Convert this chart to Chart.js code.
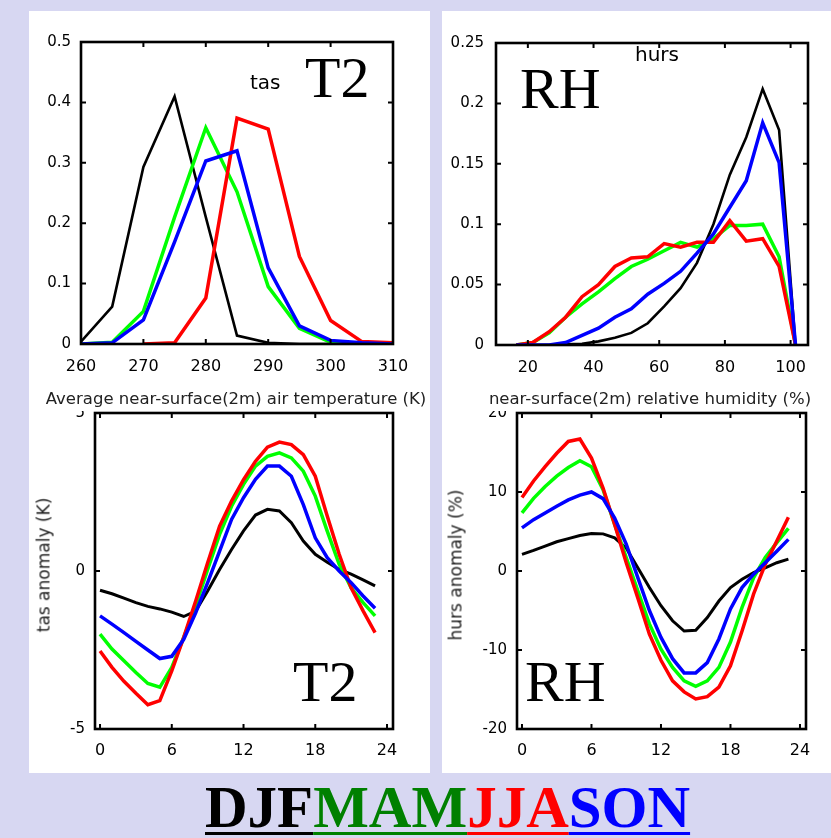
<!DOCTYPE html>
<html><head><meta charset="utf-8">
<script src="https://cdn.jsdelivr.net/npm/chart.js@4/dist/chart.umd.min.js"></script>
<style>
html,body{margin:0;padding:0;}
body{width:831px;height:838px;background:#D7D7F2;position:relative;overflow:hidden;font-family:"DejaVu Sans",sans-serif;}
.panel{position:absolute;background:#fff;}
canvas{position:absolute;left:0;top:0;}
.t{position:absolute;white-space:nowrap;line-height:1;color:#000;}
.serif{font-family:"Liberation Serif","Times New Roman",serif;}
.legend{font-weight:bold;font-size:59px;}
.legend span{text-decoration:underline;text-decoration-thickness:3px;text-underline-offset:5px;}
</style></head><body>
<div class="panel" style="left:29px;top:11px;width:401px;height:762px"></div>
<div class="panel" style="left:442px;top:11px;width:389px;height:762px"></div>
<canvas id="c3" width="831" height="838"></canvas>
<canvas id="c4" width="831" height="838"></canvas>
<div class="panel" style="left:29px;top:11px;width:401px;height:400px"></div>
<div class="panel" style="left:442px;top:11px;width:389px;height:400px"></div>
<canvas id="c1" width="831" height="838"></canvas>
<canvas id="c2" width="831" height="838"></canvas>

<div class="t" style="left:250px;top:72px;font-size:20px">tas</div>
<div class="t serif" style="left:305px;top:49px;font-size:58px">T2</div>
<div class="t" style="left:635px;top:44px;font-size:20px">hurs</div>
<div class="t serif" style="left:520px;top:60px;font-size:58px">RH</div>
<div class="t serif" style="left:293px;top:653px;font-size:58px">T2</div>
<div class="t serif" style="left:525px;top:653px;font-size:58px">RH</div>
<div class="t" style="left:236px;top:391px;font-size:16.5px;transform:translateX(-50%);color:#222">Average near-surface(2m) air temperature (K)</div>
<div class="t" style="left:650px;top:391px;font-size:16.5px;transform:translateX(-50%);color:#222">near-surface(2m) relative humidity (%)</div>
<div class="t" style="left:44px;top:565px;font-size:17px;transform:translate(-50%,-50%) rotate(-90deg);color:#222">tas anomaly (K)</div>
<div class="t" style="left:456px;top:565px;font-size:17px;transform:translate(-50%,-50%) rotate(-90deg);color:#222">hurs anomaly (%)</div>
<div class="t serif legend" style="left:205px;top:778px"><span style="color:#000">DJF</span><span style="color:#008000">MAM</span><span style="color:#FF0000">JJA</span><span style="color:#0000FF">SON</span></div>

<script>
// ---- data ----
const tasBins = [260,265,270,275,280,285,290,295,300,305,310];
const tasPdfDJF = [0.004,0.062,0.293,0.41,0.21,0.014,0.002,0,0,0,0];
const tasPdfMAM = [0,0.003,0.054,0.21,0.358,0.252,0.095,0.026,0.003,0,0];
const tasPdfJJA = [null,null,0,0.002,0.076,0.374,0.356,0.145,0.039,0.004,0.002];
const tasPdfSON = [0,0.002,0.04,0.169,0.303,0.32,0.126,0.03,0.006,0.002,0];
const tasPdfXTicks = [260,270,280,290,300,310];
const tasPdfYTicks = [0,0.1,0.2,0.3,0.4,0.5];

const rhBins = [16.5,21.5,26.5,31.5,36.5,41.5,46.5,51.5,56.5,61.5,66.5,71.5,76.5,81.5,86.5,91.5,96.5,101.5];
const rhPdfDJF = [0,0,0,0.0005,0.001,0.003,0.006,0.010,0.018,0.032,0.047,0.068,0.100,0.141,0.172,0.212,0.178,0];
const rhPdfMAM = [0,0.002,0.010,0.023,0.034,0.044,0.055,0.065,0.071,0.078,0.085,0.081,0.088,0.099,0.099,0.100,0.073,0];
const rhPdfJJA = [0,0.002,0.011,0.023,0.040,0.050,0.065,0.072,0.073,0.084,0.081,0.085,0.085,0.103,0.086,0.088,0.065,0];
const rhPdfSON = [0,0,0,0.002,0.008,0.014,0.023,0.030,0.042,0.051,0.061,0.076,0.092,0.114,0.136,0.184,0.151,0];
const rhPdfXTicks = [20,40,60,80,100];
const rhPdfYTicks = [0,0.05,0.1,0.15,0.2,0.25];

const hours = [0,1,2,3,4,5,6,7,8,9,10,11,12,13,14,15,16,17,18,19,20,21,22,23];
const tasAnomDJF = [-0.61,-0.72,-0.86,-1.0,-1.12,-1.2,-1.3,-1.44,-1.27,-0.63,0.05,0.68,1.27,1.77,1.95,1.9,1.53,0.95,0.53,0.28,0.05,-0.1,-0.28,-0.47];
const tasAnomMAM = [-2.0,-2.47,-2.84,-3.21,-3.56,-3.68,-3.05,-2.1,-1.1,0.05,1.16,2.05,2.74,3.32,3.63,3.74,3.58,3.16,2.37,1.26,0.21,-0.53,-1.0,-1.42];
const tasAnomJJA = [-2.53,-3.05,-3.49,-3.87,-4.23,-4.1,-3.16,-2.1,-0.95,0.26,1.42,2.21,2.89,3.47,3.92,4.08,4.0,3.68,3.0,1.74,0.53,-0.53,-1.26,-1.95];
const tasAnomSON = [-1.42,-1.68,-1.95,-2.23,-2.5,-2.77,-2.7,-2.16,-1.32,-0.37,0.63,1.63,2.32,2.9,3.32,3.32,3.0,2.1,1.05,0.42,0.0,-0.37,-0.79,-1.18];
const tasAnomYTicks = [-5,0,5];

const hursAnomDJF = [2.1,2.6,3.15,3.7,4.1,4.5,4.75,4.7,4.2,2.9,0.4,-2.1,-4.4,-6.3,-7.6,-7.5,-5.9,-3.8,-2.1,-1.05,-0.2,0.4,1.05,1.5];
const hursAnomMAM = [7.35,9.2,10.7,12.0,13.1,13.95,13.2,10.3,5.9,1.7,-2.5,-6.7,-9.9,-12.2,-13.9,-14.6,-13.9,-12.2,-9.0,-4.6,-0.84,1.7,3.6,5.4];
const hursAnomJJA = [9.3,11.4,13.2,14.9,16.4,16.7,14.3,10.5,5.9,1.05,-3.4,-8.0,-11.3,-13.9,-15.3,-16.2,-15.9,-14.7,-12.0,-7.6,-2.9,0.84,3.8,6.8];
const hursAnomSON = [5.46,6.5,7.35,8.2,9.0,9.6,10.0,9.16,6.7,3.4,-0.84,-5.0,-8.4,-11.1,-12.9,-12.9,-11.6,-8.6,-4.8,-2.1,-0.4,1.05,2.5,4.0];
const hursAnomYTicks = [-20,-10,0,10,20];
const hourTicks = [0,6,12,18,24];

const seasonColors = {DJF:'#000000', MAM:'#00FF00', JJA:'#FF0000', SON:'#0000FF'};

// ---- drawing ----
const framePlugin = {
  id:'frame',
  afterDatasetsDraw(chart){
    const {ctx, chartArea:{left,top,right,bottom}, scales:{x,y}} = chart;
    ctx.save();
    ctx.strokeStyle='#000';
    ctx.lineWidth=2;
    const tl=5;
    ctx.beginPath();
    x.ticks.forEach(t=>{const p=x.getPixelForValue(t.value); ctx.moveTo(p,bottom); ctx.lineTo(p,bottom-tl); ctx.moveTo(p,top); ctx.lineTo(p,top+tl);});
    y.ticks.forEach(t=>{const p=y.getPixelForValue(t.value); ctx.moveTo(left,p); ctx.lineTo(left+tl,p); ctx.moveTo(right,p); ctx.lineTo(right-tl,p);});
    ctx.stroke();
    ctx.lineWidth=2.6;
    ctx.strokeRect(left,top,right-left,bottom-top);
    ctx.restore();
  }
};

function makeChart(id, c){
  const ds = c.series.map(s=>({
    data: c.xs.map((x,i)=>({x:x, y:s.y[i]})),
    borderColor: s.color, borderWidth: s.w, order: s.order,
    pointRadius:0, tension:0, fill:false, spanGaps:false
  }));
  const tickFont = {family:'DejaVu Sans', size:16};
  return new Chart(document.getElementById(id), {
    type:'line',
    data:{datasets:ds},
    options:{
      responsive:false, animation:false, devicePixelRatio:1,
      layout:{padding:{left:c.L-c.yW, top:c.T, right:831-c.R, bottom:838-c.B-40}},
      plugins:{legend:{display:false}, tooltip:{enabled:false}},
      scales:{
        x:{type:'linear', min:c.xMin, max:c.xMax,
           grid:{display:false, drawTicks:false}, border:{display:false},
           ticks:{padding:c.xPad, font:tickFont, color:'#000', maxRotation:0, autoSkip:false, callback:v=>String(v)},
           afterBuildTicks:s=>{s.ticks=c.xTicks.map(v=>({value:v}));},
           afterFit:s=>{s.height=40; s.paddingLeft=0; s.paddingRight=0;}},
        y:{type:'linear', min:c.yMin, max:c.yMax,
           grid:{display:false, drawTicks:false}, border:{display:false},
           ticks:{padding:c.yPad, font:{family:'DejaVu Sans', size:15}, color:'#000', autoSkip:false, callback:v=>String(v)},
           afterBuildTicks:s=>{s.ticks=c.yTicks.map(v=>({value:v}));},
           afterFit:s=>{s.width=c.yW; s.paddingTop=0; s.paddingBottom=0;}}
      }
    },
    plugins:[framePlugin]
  });
}

function seasons(djf, mam, jja, son, wb){
  return [
    {y:son, color:seasonColors.SON, w:3.5, order:1},
    {y:jja, color:seasonColors.JJA, w:3.5, order:2},
    {y:mam, color:seasonColors.MAM, w:3.5, order:3},
    {y:djf, color:seasonColors.DJF, w:wb, order:4}
  ];
}

makeChart('c1', {L:81,T:42,R:393,B:344,yW:50,xPad:13,yPad:10,
  xMin:260,xMax:310,yMin:0,yMax:0.5,xTicks:tasPdfXTicks,yTicks:tasPdfYTicks,
  xs:tasBins, series:seasons(tasPdfDJF,tasPdfMAM,tasPdfJJA,tasPdfSON,2.6)});
makeChart('c2', {L:496,T:43,R:808,B:345,yW:50,xPad:13,yPad:12,
  xMin:10.3,xMax:105.3,yMin:0,yMax:0.25,xTicks:rhPdfXTicks,yTicks:rhPdfYTicks,
  xs:rhBins, series:seasons(rhPdfDJF,rhPdfMAM,rhPdfJJA,rhPdfSON,2.6)});
makeChart('c3', {L:95,T:413,R:393,B:729,yW:50,xPad:12,yPad:10,
  xMin:-0.42,xMax:24.5,yMin:-5,yMax:5,xTicks:hourTicks,yTicks:tasAnomYTicks,
  xs:hours, series:seasons(tasAnomDJF,tasAnomMAM,tasAnomJJA,tasAnomSON,3)});
makeChart('c4', {L:517,T:413,R:806,B:729,yW:50,xPad:12,yPad:10,
  xMin:-0.43,xMax:24.52,yMin:-20,yMax:20,xTicks:hourTicks,yTicks:hursAnomYTicks,
  xs:hours, series:seasons(hursAnomDJF,hursAnomMAM,hursAnomJJA,hursAnomSON,3)});
</script>
</body></html>
